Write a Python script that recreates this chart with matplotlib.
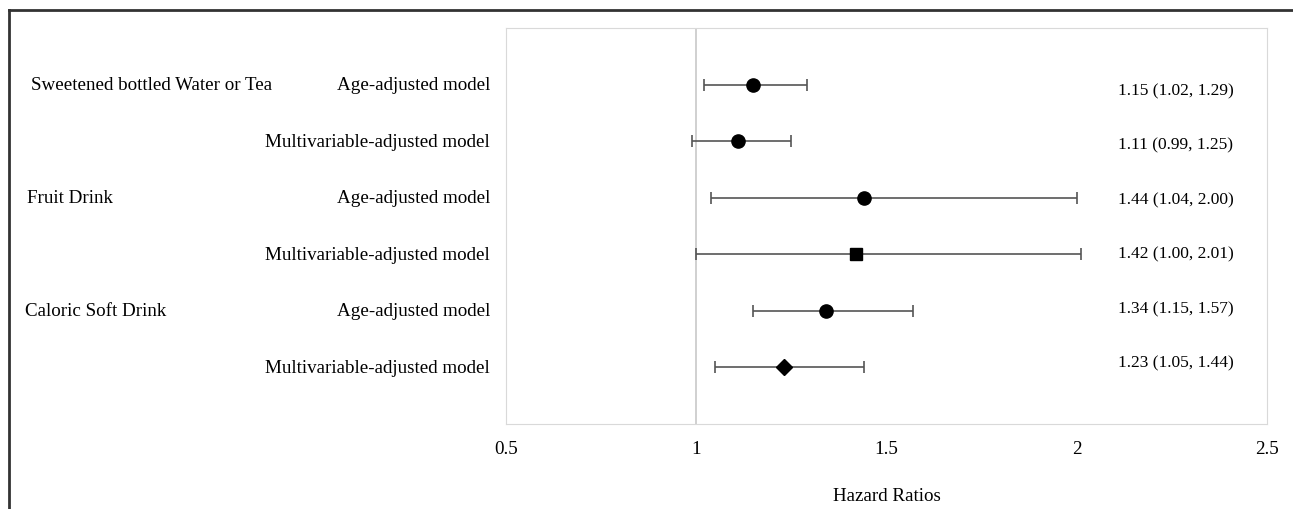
import matplotlib.pyplot as plt
from matplotlib.lines import Line2D
from matplotlib import transforms

plt.rcParams['font.family'] = ['Liberation Serif', 'DejaVu Serif']

# data
groups = ['Sweetened bottled Water or Tea', 'Fruit Drink', 'Caloric Soft Drink']
models = ['Age-adjusted model', 'Multivariable-adjusted model'] * 3
hr = [1.15, 1.11, 1.44, 1.42, 1.34, 1.23]
lo = [1.02, 0.99, 1.04, 1.00, 1.15, 1.05]
hi = [1.29, 1.25, 2.00, 2.01, 1.57, 1.44]
markers = ['o', 'o', 'o', 's', 'o', 'D']
ticks = [0.5, 1, 1.5, 2, 2.5]

fig = plt.figure(figsize=(12.93, 5.09), dpi=100)
ax = fig.add_axes([0.3913, 0.167, 0.5886, 0.778])

ys = [6, 5, 4, 3, 2, 1]
label_dy = [-0.12, -0.08, -0.045, -0.01, 0.03, 0.065]
ax.axvline(1, color='#c8c8c8', lw=1.2, zorder=1)
for i, y in enumerate(ys):
    ax.errorbar(hr[i], y, xerr=[[hr[i] - lo[i]], [hi[i] - hr[i]]], fmt='none',
                ecolor='#555555', elinewidth=1.2, capsize=4, capthick=1.2, zorder=2)
    ms = 9.5 if markers[i] == 'o' else (9 if markers[i] == 's' else 8)
    ax.plot(hr[i], y, marker=markers[i], color='black', ms=ms, ls='none', zorder=3)
    ax.text(2.108, y + label_dy[i], f'{hr[i]:.2f} ({lo[i]:.2f}, {hi[i]:.2f})',
            fontsize=12.5, va='center', ha='left')
    ax.text(-0.021, y - 0.02, models[i], transform=ax.get_yaxis_transform(),
            fontsize=13.7, va='center', ha='right')

# category names at the far left
trans = transforms.blended_transform_factory(fig.transFigure, ax.transData)
group_x = [0.024, 0.021, 0.019]
for g, y, gx in zip(groups, [6, 4, 2], group_x):
    ax.text(gx, y - 0.02, g, transform=trans, fontsize=13.7, va='center', ha='left')

ax.set_xlim(0.5, 2.5)
ax.set_ylim(0, 7)
ax.set_xticks(ticks)
ax.set_xticklabels(['0.5', '1', '1.5', '2', '2.5'], fontsize=13.7)
ax.set_yticks([])
ax.tick_params(axis='x', length=0, pad=12)
for s in ax.spines.values():
    s.set_color('#d9d9d9')
ax.set_xlabel('Hazard Ratios', fontsize=13.7, labelpad=22)

# outer frame (left and top)
fig.add_artist(Line2D([0.007, 0.007], [0, 0.981], color='#333333', lw=2,
                      transform=fig.transFigure))
fig.add_artist(Line2D([0.007, 1], [0.981, 0.981], color='#333333', lw=2,
                      transform=fig.transFigure))

fig.savefig('out.png', dpi=100)
